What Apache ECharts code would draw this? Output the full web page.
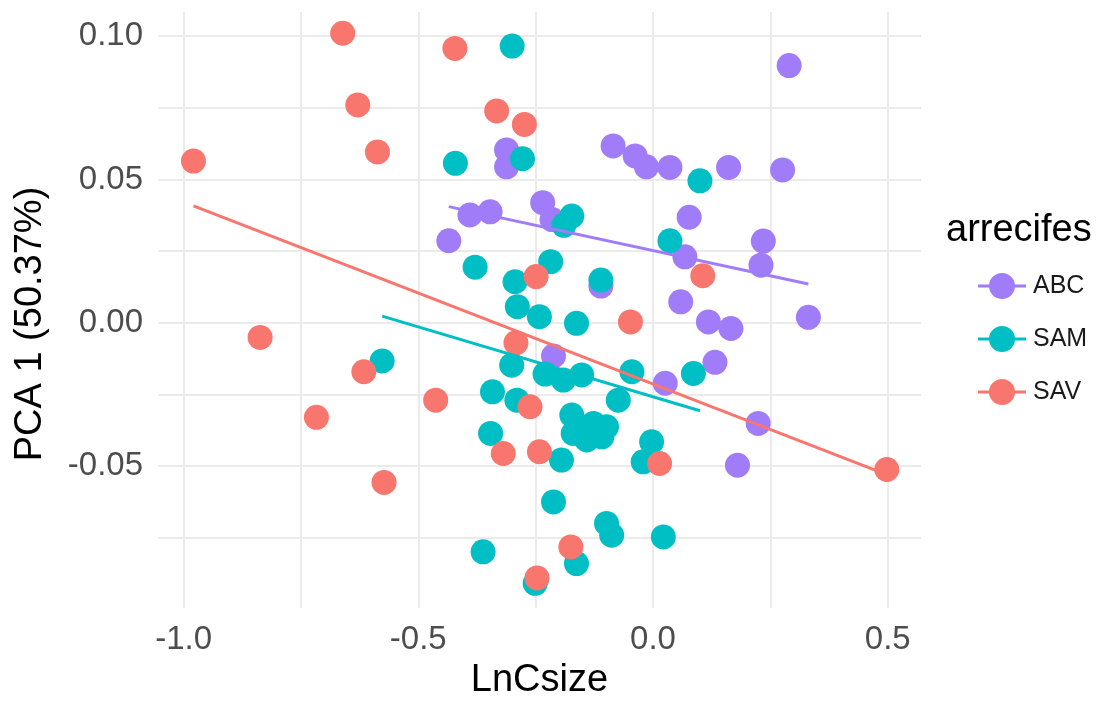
<!DOCTYPE html>
<html>
<head>
<meta charset="utf-8">
<script src="https://cdn.jsdelivr.net/npm/echarts@6/dist/echarts.min.js"></script>
<style>
  html, body { margin: 0; padding: 0; background: #ffffff; }
  #chart { width: 1111px; height: 714px; }
</style>
</head>
<body>
<div id="chart"></div>
<script>
// Reef groups
const groups = ['ABC', 'SAM', 'SAV'];

// LnCsize (x) and PCA 1 score (y) for each specimen, per reef
const abcX = [-0.312, -0.312, -0.390, -0.347, -0.435, -0.235, -0.215, -0.111, 0.290, -0.085, -0.038, -0.014, 0.036, 0.161, 0.276, 0.077, 0.068, 0.235, 0.230, 0.059, 0.118, 0.166, 0.331, 0.132, 0.026, -0.212, 0.224, 0.180];
const abcY = [0.0603, 0.0544, 0.0376, 0.0387, 0.0286, 0.0419, 0.0360, 0.0128, 0.0897, 0.0617, 0.0582, 0.0544, 0.0542, 0.0542, 0.0533, 0.0368, 0.0230, 0.0285, 0.0201, 0.0073, 0.0003, -0.0020, 0.0019, -0.0138, -0.0211, -0.0116, -0.0351, -0.0497];

const samX = [-0.300, -0.421, -0.278, -0.173, -0.190, 0.100, 0.036, -0.379, -0.294, -0.218, -0.111, -0.289, -0.242, -0.163, -0.577, -0.301, -0.230, -0.191, -0.152, -0.045, 0.086, -0.342, -0.290, -0.074, -0.173, -0.127, -0.099, -0.170, -0.141, -0.109, -0.346, -0.195, -0.003, -0.021, -0.212, -0.099, -0.088, 0.022, -0.362, -0.163, -0.251];
const samY = [0.0965, 0.0556, 0.0572, 0.0372, 0.0340, 0.0495, 0.0286, 0.0194, 0.0143, 0.0213, 0.0149, 0.0056, 0.0021, -0.0002, -0.0133, -0.0148, -0.0179, -0.0200, -0.0182, -0.0171, -0.0177, -0.0241, -0.0270, -0.0270, -0.0322, -0.0351, -0.0363, -0.0386, -0.0409, -0.0398, -0.0386, -0.0479, -0.0415, -0.0485, -0.0625, -0.0700, -0.0741, -0.0747, -0.0799, -0.0840, -0.0909];

const savX = [-0.661, -0.422, -0.629, -0.333, -0.274, -0.979, -0.587, -0.249, 0.106, -0.048, -0.292, -0.837, -0.616, -0.463, -0.262, -0.717, -0.319, -0.242, 0.014, 0.498, -0.573, -0.175, -0.247];
const savY = [0.1010, 0.0957, 0.0760, 0.0739, 0.0692, 0.0564, 0.0596, 0.0161, 0.0164, 0.0003, -0.0070, -0.0051, -0.0171, -0.0270, -0.0293, -0.0330, -0.0456, -0.0450, -0.0491, -0.0512, -0.0557, -0.0782, -0.0890];

// Linear fit end points for each reef
const abcFitX = [-0.435, 0.331];
const abcFitY = [0.0405, 0.0135];
const samFitX = [-0.577, 0.100];
const samFitY = [0.0023, -0.0307];
const savFitX = [-0.979, 0.498];
const savFitY = [0.0408, -0.0530];

// Axis breaks
const xMajor = [-1.0, -0.5, 0.0, 0.5];
const xMinor = [-0.75, -0.25, 0.25];
const yMajor = [-0.05, 0.0, 0.05, 0.10];
const yMinor = [-0.075, -0.025, 0.025, 0.075];

const palette = { ABC: '#A07CF8', SAM: '#00BFC4', SAV: '#F8766D' };
const FONT = '"Liberation Sans", Arial, sans-serif';

const pts = { ABC: [abcX, abcY], SAM: [samX, samY], SAV: [savX, savY] };
const fits = { ABC: [abcFitX, abcFitY], SAM: [samFitX, samFitY], SAV: [savFitX, savFitY] };
const zip = (xs, ys) => xs.map((x, i) => [x, ys[i]]);

// legend key: a dot with a short line through it
const keyIcon = 'path://M0,11.4h48v3.2h-48z M37,13a13,13 0 1,1 -26,0a13,13 0 1,1 26,0z';

const series = [];
groups.forEach(g => {
  series.push({
    name: g,
    type: 'scatter',
    data: zip(pts[g][0], pts[g][1]),
    symbol: 'circle',
    symbolSize: 25,
    itemStyle: { color: palette[g], opacity: 1 },
    z: 2
  });
});
groups.forEach(g => {
  series.push({
    name: g,
    type: 'line',
    data: zip(fits[g][0], fits[g][1]),
    showSymbol: false,
    symbol: 'none',
    lineStyle: { color: palette[g], width: 3 },
    itemStyle: { color: palette[g] },
    z: 3
  });
});

const chart = echarts.init(document.getElementById('chart'), null, { renderer: 'canvas' });
chart.setOption({
  animation: false,
  backgroundColor: '#ffffff',
  grid: { left: 158, right: 190, top: 12, bottom: 106, containLabel: false },
  title: {
    text: 'arrecifes',
    left: 941,
    top: 207,
    textStyle: { fontFamily: FONT, fontSize: 38, fontWeight: 'normal', color: '#000000' }
  },
  legend: {
    orient: 'vertical',
    left: 973,
    top: 268,
    itemWidth: 48,
    itemHeight: 26,
    itemGap: 27,
    data: groups.map(g => ({ name: g, icon: keyIcon, itemStyle: { color: palette[g] } })),
    textStyle: { fontFamily: FONT, fontSize: 25, color: '#1a1a1a', padding: [0, 0, 0, 2] },
    selectedMode: false
  },
  xAxis: {
    type: 'value',
    min: -1.0545,
    max: 0.5709,
    name: 'LnCsize',
    nameLocation: 'middle',
    nameGap: 54,
    nameTextStyle: { fontFamily: FONT, fontSize: 38, color: '#000000' },
    axisLine: { show: false },
    axisTick: { show: false, customValues: xMinor.concat(xMajor).sort((a, b) => a - b) },
    axisLabel: {
      customValues: xMajor,
      formatter: v => v.toFixed(1),
      fontFamily: FONT, fontSize: 33, color: '#4D4D4D', margin: 15
    },
    splitLine: { show: true, lineStyle: { color: '#EBEBEB', width: 2 } }
  },
  yAxis: {
    type: 'value',
    min: -0.0995,
    max: 0.1084,
    name: 'PCA 1 (50.37%)',
    nameLocation: 'middle',
    nameRotate: 90,
    nameGap: 108,
    nameTextStyle: { fontFamily: FONT, fontSize: 38, color: '#000000', padding: [0, 28, 0, 0] },
    axisLine: { show: false },
    axisTick: { show: false, customValues: yMinor.concat(yMajor).sort((a, b) => a - b) },
    axisLabel: {
      customValues: yMajor,
      formatter: v => v.toFixed(2),
      fontFamily: FONT, fontSize: 33, color: '#4D4D4D', margin: 15
    },
    splitLine: { show: true, lineStyle: { color: '#EBEBEB', width: 2 } }
  },
  series: series
});
</script>
</body>
</html>
